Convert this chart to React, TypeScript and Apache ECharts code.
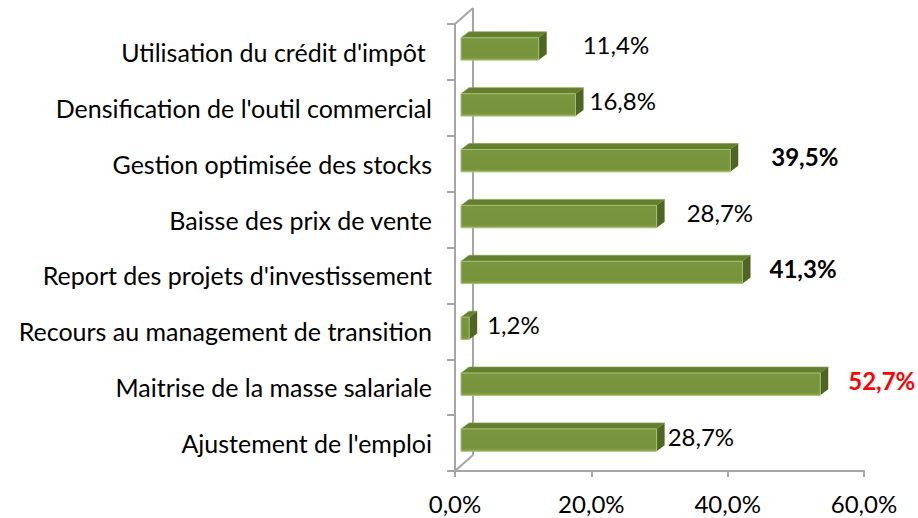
import React, { useEffect, useRef } from "react";
import * as echarts from "echarts";

const categories = [
  "Ajustement de l'emploi",
  "Maitrise de la masse salariale",
  "Recours au management de transition",
  "Report des projets d'investissement",
  "Baisse des prix de vente",
  "Gestion optimisée des stocks",
  "Densification de l'outil commercial",
  "Utilisation du crédit d'impôt ",
];
const values = [28.7, 52.7, 1.2, 41.3, 28.7, 39.5, 16.8, 11.4];
const xTicks = [0, 20, 40, 60];
// label styling (not data): extra gap after bar end, emphasis kind
const labelGap = [3, 20, 10, 19, 22, 33, 6, 36];
const labelKind = ["n", "r", "n", "b", "n", "b", "n", "n"];

const FONT = "Lato, 'Open Sans', sans-serif";
const fmt = (v: number) => v.toFixed(1).replace(".", ",") + "%";

export default function App() {
  const ref = useRef<HTMLDivElement>(null);
  useEffect(() => {
    if (!ref.current) return;
    const chart = echarts.init(ref.current, null, { renderer: "svg" });
    const G = { left: 455, top: 24, right: 54, bottom: 47 };
    const W = 918, H = 518;
    const gx0 = G.left, gy0 = G.top, gy1 = H - G.bottom;
    const wallDx = 18, wallDy = -16;
    const lineStyle = { stroke: "#a6a6a6", lineWidth: 2 };
    chart.setOption({
      animation: false,
      grid: { left: G.left, top: G.top, right: G.right, bottom: G.bottom, containLabel: false },
      xAxis: {
        type: "value",
        min: 0,
        max: 60,
        interval: 20,
        axisLine: { show: true, lineStyle: { color: "#a6a6a6", width: 2 } },
        axisTick: { show: true, length: 6, lineStyle: { color: "#a6a6a6", width: 2 } },
        splitLine: { show: false },
        axisLabel: {
          formatter: (v: number) => (xTicks.includes(v) ? fmt(v) : ""),
          fontFamily: FONT,
          fontSize: 24,
          color: "#000",
          margin: 20,
        },
      },
      yAxis: {
        type: "category",
        data: categories,
        axisLine: { show: true, lineStyle: { color: "#a6a6a6", width: 2 } },
        axisTick: { show: true, length: 8, lineStyle: { color: "#a6a6a6", width: 2 } },
        axisLabel: { fontFamily: FONT, fontSize: 25, color: "#000", margin: 23 },
      },
      graphic: [
        { type: "line", z: 0, shape: { x1: gx0 + wallDx, y1: gy0 + wallDy, x2: gx0 + wallDx, y2: gy1 + wallDy }, style: lineStyle },
        { type: "line", z: 0, shape: { x1: gx0, y1: gy0, x2: gx0 + wallDx, y2: gy0 + wallDy }, style: lineStyle },
        { type: "line", z: 0, shape: { x1: gx0, y1: gy1, x2: gx0 + wallDx, y2: gy1 + wallDy }, style: lineStyle },
      ],
      series: [
        {
          type: "custom",
          z: 10,
          encode: { x: 0, y: 1 },
          data: values.map((v, i) => [v, i]),
          renderItem: (params: any, api: any) => {
            const v = api.value(0);
            const i = api.value(1);
            const idx = params.dataIndex;
            const p0 = api.coord([0, i]);
            const p1 = api.coord([v, i]);
            const band = api.size([0, 1])[1];
            const h = band * 0.4;
            const x0 = p0[0] + 6;
            const x1 = p1[0] + 6;
            const yc = p0[1] - 3;
            const yT = yc - h / 2;
            const yB = yc + h / 2;
            const dx = 8, dy = -6;
            const kind = labelKind[idx];
            return {
              type: "group",
              children: [
                {
                  type: "polygon",
                  shape: { points: [[x0, yT], [x0 + dx, yT + dy], [x1 + dx, yT + dy], [x1, yT]] },
                  style: { fill: "#62802e", stroke: "#7f9c48", lineWidth: 0.6 },
                },
                {
                  type: "polygon",
                  shape: { points: [[x1, yT], [x1 + dx, yT + dy], [x1 + dx, yB + dy], [x1, yB]] },
                  style: { fill: "#4f6527" },
                },
                {
                  type: "rect",
                  shape: { x: x0, y: yT, width: Math.max(x1 - x0, 0), height: h },
                  style: {
                    fill: new echarts.graphic.LinearGradient(0, 0, 0, 1, [
                      { offset: 0, color: "#7a9740" },
                      { offset: 0.85, color: "#76933b" },
                      { offset: 1, color: "#8aa852" },
                    ]),
                    stroke: "#a3bf6e",
                    lineWidth: 1,
                  },
                },
                {
                  type: "text",
                  style: {
                    text: fmt(v),
                    x: x1 + dx + labelGap[idx],
                    y: yc - 4,
                    verticalAlign: "middle",
                    align: "left",
                    fontFamily: FONT,
                    fontSize: 24,
                    fontWeight: kind === "n" ? "normal" : "bold",
                    fill: kind === "r" ? "#ff0000" : "#000",
                  },
                },
              ],
            };
          },
        },
      ],
    });
    return () => chart.dispose();
  }, []);
  return <div ref={ref} style={{ width: 918, height: 518, position: "absolute", left: 0, top: 0 }} />;
}
